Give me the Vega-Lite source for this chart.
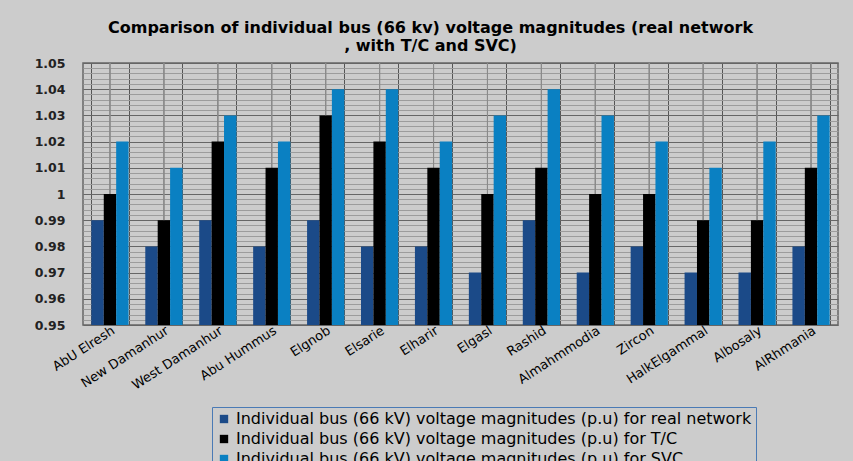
{
  "$schema": "https://vega.github.io/schema/vega-lite/v6.json",
  "width": 755,
  "height": 262,
  "autosize": {"type": "none"},
  "padding": {"left": 83, "top": 63, "right": 15, "bottom": 136},
  "background": "#cccccc",
  "title": {
    "text": ["Comparison of individual bus (66 kv) voltage magnitudes (real network", ", with T/C and SVC)"],
    "font": "DejaVu Sans",
    "fontSize": 16,
    "fontWeight": "bold",
    "color": "#000000",
    "anchor": "middle",
    "dx": -30,
    "offset": 3,
    "lineHeight": 18
  },
  "config": {
    "view": {"stroke": "#666666", "strokeWidth": 1.5}
  },
  "data": {
    "values": [
      {"bus": "AbU Elresh", "series": "Individual bus (66 kV) voltage magnitudes (p.u) for real network", "value": 0.99},
      {"bus": "AbU Elresh", "series": "Individual bus (66 kV) voltage magnitudes (p.u) for T/C", "value": 1.00},
      {"bus": "AbU Elresh", "series": "Individual bus (66 kV) voltage magnitudes (p.u) for SVC", "value": 1.02},
      {"bus": "New Damanhur", "series": "Individual bus (66 kV) voltage magnitudes (p.u) for real network", "value": 0.98},
      {"bus": "New Damanhur", "series": "Individual bus (66 kV) voltage magnitudes (p.u) for T/C", "value": 0.99},
      {"bus": "New Damanhur", "series": "Individual bus (66 kV) voltage magnitudes (p.u) for SVC", "value": 1.01},
      {"bus": "West Damanhur", "series": "Individual bus (66 kV) voltage magnitudes (p.u) for real network", "value": 0.99},
      {"bus": "West Damanhur", "series": "Individual bus (66 kV) voltage magnitudes (p.u) for T/C", "value": 1.02},
      {"bus": "West Damanhur", "series": "Individual bus (66 kV) voltage magnitudes (p.u) for SVC", "value": 1.03},
      {"bus": "Abu Hummus", "series": "Individual bus (66 kV) voltage magnitudes (p.u) for real network", "value": 0.98},
      {"bus": "Abu Hummus", "series": "Individual bus (66 kV) voltage magnitudes (p.u) for T/C", "value": 1.01},
      {"bus": "Abu Hummus", "series": "Individual bus (66 kV) voltage magnitudes (p.u) for SVC", "value": 1.02},
      {"bus": "Elgnob", "series": "Individual bus (66 kV) voltage magnitudes (p.u) for real network", "value": 0.99},
      {"bus": "Elgnob", "series": "Individual bus (66 kV) voltage magnitudes (p.u) for T/C", "value": 1.03},
      {"bus": "Elgnob", "series": "Individual bus (66 kV) voltage magnitudes (p.u) for SVC", "value": 1.04},
      {"bus": "Elsarie", "series": "Individual bus (66 kV) voltage magnitudes (p.u) for real network", "value": 0.98},
      {"bus": "Elsarie", "series": "Individual bus (66 kV) voltage magnitudes (p.u) for T/C", "value": 1.02},
      {"bus": "Elsarie", "series": "Individual bus (66 kV) voltage magnitudes (p.u) for SVC", "value": 1.04},
      {"bus": "Elharir", "series": "Individual bus (66 kV) voltage magnitudes (p.u) for real network", "value": 0.98},
      {"bus": "Elharir", "series": "Individual bus (66 kV) voltage magnitudes (p.u) for T/C", "value": 1.01},
      {"bus": "Elharir", "series": "Individual bus (66 kV) voltage magnitudes (p.u) for SVC", "value": 1.02},
      {"bus": "Elgasl", "series": "Individual bus (66 kV) voltage magnitudes (p.u) for real network", "value": 0.97},
      {"bus": "Elgasl", "series": "Individual bus (66 kV) voltage magnitudes (p.u) for T/C", "value": 1.00},
      {"bus": "Elgasl", "series": "Individual bus (66 kV) voltage magnitudes (p.u) for SVC", "value": 1.03},
      {"bus": "Rashid", "series": "Individual bus (66 kV) voltage magnitudes (p.u) for real network", "value": 0.99},
      {"bus": "Rashid", "series": "Individual bus (66 kV) voltage magnitudes (p.u) for T/C", "value": 1.01},
      {"bus": "Rashid", "series": "Individual bus (66 kV) voltage magnitudes (p.u) for SVC", "value": 1.04},
      {"bus": "Almahmmodia", "series": "Individual bus (66 kV) voltage magnitudes (p.u) for real network", "value": 0.97},
      {"bus": "Almahmmodia", "series": "Individual bus (66 kV) voltage magnitudes (p.u) for T/C", "value": 1.00},
      {"bus": "Almahmmodia", "series": "Individual bus (66 kV) voltage magnitudes (p.u) for SVC", "value": 1.03},
      {"bus": "Zircon", "series": "Individual bus (66 kV) voltage magnitudes (p.u) for real network", "value": 0.98},
      {"bus": "Zircon", "series": "Individual bus (66 kV) voltage magnitudes (p.u) for T/C", "value": 1.00},
      {"bus": "Zircon", "series": "Individual bus (66 kV) voltage magnitudes (p.u) for SVC", "value": 1.02},
      {"bus": "HalkElgammal", "series": "Individual bus (66 kV) voltage magnitudes (p.u) for real network", "value": 0.97},
      {"bus": "HalkElgammal", "series": "Individual bus (66 kV) voltage magnitudes (p.u) for T/C", "value": 0.99},
      {"bus": "HalkElgammal", "series": "Individual bus (66 kV) voltage magnitudes (p.u) for SVC", "value": 1.01},
      {"bus": "Albosaly", "series": "Individual bus (66 kV) voltage magnitudes (p.u) for real network", "value": 0.97},
      {"bus": "Albosaly", "series": "Individual bus (66 kV) voltage magnitudes (p.u) for T/C", "value": 0.99},
      {"bus": "Albosaly", "series": "Individual bus (66 kV) voltage magnitudes (p.u) for SVC", "value": 1.02},
      {"bus": "AlRhmania", "series": "Individual bus (66 kV) voltage magnitudes (p.u) for real network", "value": 0.98},
      {"bus": "AlRhmania", "series": "Individual bus (66 kV) voltage magnitudes (p.u) for T/C", "value": 1.01},
      {"bus": "AlRhmania", "series": "Individual bus (66 kV) voltage magnitudes (p.u) for SVC", "value": 1.03}
    ]
  },
  "encoding": {
    "x": {
      "field": "bus",
      "type": "nominal",
      "sort": null,
      "scale": {"paddingInner": 0.31, "paddingOuter": 0.155},
      "axis": {
        "title": null,
        "labelAngle": -33,
        "labelAlign": "right",
        "labelBaseline": "middle",
        "labelPadding": 4,
        "labelOffset": 3,
        "labelFont": "DejaVu Sans",
        "labelFontSize": 13,
        "labelColor": "#000000",
        "tickBand": "extent",
        "grid": true,
        "gridColor": "#555555",
        "gridOpacity": 1,
        "ticks": false,
        "domain": false
      }
    }
  },
  "layer": [
    {
      "mark": {"type": "rule", "color": "#8a8a8a", "strokeWidth": 1},
      "encoding": {}
    },
    {
      "mark": {"type": "bar", "clip": true},
      "encoding": {
        "xOffset": {
          "field": "series",
          "type": "nominal",
          "sort": null,
          "scale": {"paddingInner": 0, "paddingOuter": 0}
        },
        "y": {
          "field": "value",
          "type": "quantitative",
          "scale": {"domain": [0.95, 1.05], "zero": false, "nice": false},
          "axis": {
            "title": null,
            "tickCount": 50,
            "labelExpr": "abs(datum.value*100 - round(datum.value*100)) < 0.01 ? format(datum.value, '.2~f') : ''",
            "labelOverlap": false,
            "labelFont": "DejaVu Sans",
            "labelFontSize": 12.5,
            "labelFontWeight": "bold",
            "labelColor": "#222222",
            "labelPadding": 18,
            "ticks": false,
            "domain": false,
            "grid": true,
            "gridOpacity": 1,
            "gridColor": {
              "condition": {"test": "abs(datum.value*100 - round(datum.value*100)) < 0.01", "value": "#666666"},
              "value": "#9c9c9c"
            }
          }
        },
        "color": {
          "field": "series",
          "type": "nominal",
          "sort": null,
          "scale": {"range": ["#1b4a88", "#000000", "#0a80c2"]},
          "legend": {
            "title": null,
            "orient": "none",
            "legendX": 129,
            "legendY": 344,
            "direction": "vertical",
            "fillColor": "#cccccc",
            "strokeColor": "#4a7ab5",
            "padding": 4,
            "symbolType": "square",
            "symbolSize": 70,
            "symbolStrokeWidth": 0,
            "labelFont": "DejaVu Sans",
            "labelFontSize": 16,
            "labelColor": "#000000",
            "labelLimit": 800,
            "rowPadding": 4
          }
        }
      }
    }
  ]
}
